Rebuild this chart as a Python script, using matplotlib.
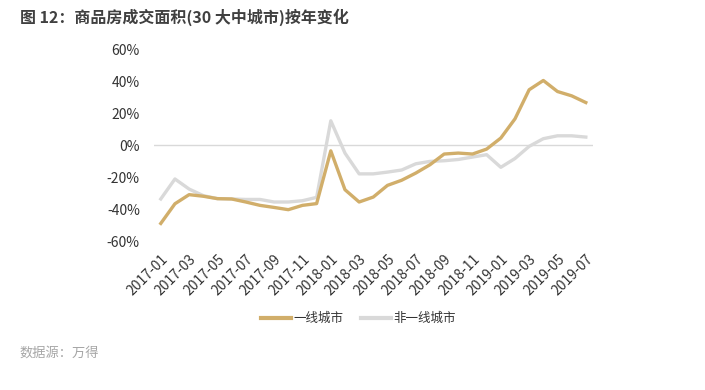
import matplotlib
matplotlib.use("Agg")
import matplotlib.pyplot as plt
import numpy as np

plt.rcParams['font.family'] = ['Noto Sans CJK SC', 'DejaVu Sans']

# months 2017-01 .. 2019-07
months = ['2017-01', '2017-02', '2017-03', '2017-04', '2017-05', '2017-06', '2017-07',
          '2017-08', '2017-09', '2017-10', '2017-11', '2017-12',
          '2018-01', '2018-02', '2018-03', '2018-04', '2018-05', '2018-06', '2018-07',
          '2018-08', '2018-09', '2018-10', '2018-11', '2018-12',
          '2019-01', '2019-02', '2019-03', '2019-04', '2019-05', '2019-06', '2019-07']

# 一线城市 (%)
tier1 = [-49, -36.7, -31, -32, -33.5, -33.7, -35.6, -37.7, -39, -40.4, -37.7, -36.6,
         -3.6, -27.9, -35.6, -32.5, -25.2, -22, -17.5, -12.3, -5.6, -5, -5.6, -2.5,
         4.4, 16.4, 34.6, 40.4, 33.5, 30.8, 26.6]

# 非一线城市 (%)
non_tier1 = [-33.7, -21.2, -27.5, -31.6, -33.5, -33.7, -34, -34, -35.6, -35.6, -34.8, -32.7,
             15.2, -5, -18, -18, -16.9, -15.6, -11.7, -10.2, -9.8, -9, -7.5, -6,
             -13.9, -8.4, -0.8, 4, 5.8, 5.8, 5]

yticks = [-60, -40, -20, 0, 20, 40, 60]

gold = '#D1AE6A'
grey = '#D9D9D9'
text_c = '#333333'

fig = plt.figure(figsize=(7.05, 3.9), dpi=100)
ax = fig.add_axes([0.218, 0.382, 0.623, 0.492])

x = np.arange(len(months))
ax.axhline(0, color='#D9D9D9', linewidth=1.0, zorder=1)
ax.plot(x, non_tier1, color=grey, linewidth=2.4, label='非一线城市', zorder=2)
ax.plot(x, tier1, color=gold, linewidth=2.4, label='一线城市', zorder=3)

ax.set_xlim(-0.5, len(months) - 0.5)
ax.set_ylim(-60, 60)
ax.set_yticks(yticks)
ax.set_yticklabels([f'{v}%' for v in yticks], fontsize=10, color=text_c)
ax.set_xticks(x[::2])
ax.set_xticklabels(months[::2], rotation=45, ha='right', rotation_mode='anchor',
                   fontsize=10, color=text_c)
ax.tick_params(axis='both', length=0)
ax.tick_params(axis='y', pad=10)
ax.tick_params(axis='x', pad=8)
for s in ax.spines.values():
    s.set_visible(False)

handles, labels = ax.get_legend_handles_labels()
leg = fig.legend(handles[::-1], labels[::-1], loc='center', bbox_to_anchor=(0.508, 0.183),
                 ncol=2, frameon=False, fontsize=9, handlelength=2.4,
                 handletextpad=0.2, columnspacing=1.4)
for t in leg.get_texts():
    t.set_color(text_c)
for l in leg.get_lines():
    l.set_linewidth(3)

fig.text(0.028, 0.955, '图 12：商品房成交面积(30 大中城市)按年变化', fontsize=11.5,
         fontweight='bold', color='#404040', va='center')
fig.text(0.028, 0.095, '数据源：万得', fontsize=9.5, style='italic', color='#A6A6A6',
         va='center')

fig.savefig('out.png', dpi=100)
